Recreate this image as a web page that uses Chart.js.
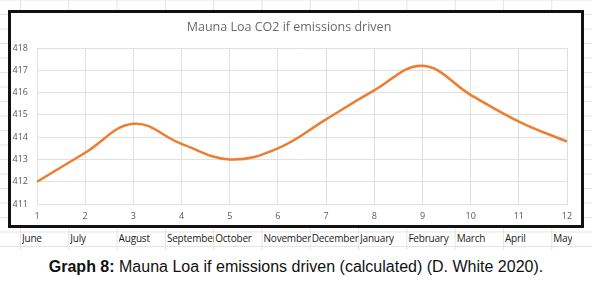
<!DOCTYPE html>
<html>
<head>
<meta charset="utf-8">
<script src="https://cdn.jsdelivr.net/npm/chart.js@4/dist/chart.umd.min.js"></script>
<style>
  html, body { margin: 0; padding: 0; background: #fff; }
  body { width: 592px; height: 287px; position: relative; overflow: hidden; font-family: "Open Sans", sans-serif; }
  #sheet {
    position: absolute; left: 0; top: 0; width: 592px; height: 250px;
    background-image:
      linear-gradient(to right, #e4e4e4 1px, transparent 1px),
      linear-gradient(to bottom, #e4e4e4 1px, transparent 1px);
    background-size: 48.3px 14.5px;
    background-position: 20px 14px;
  }
  #box {
    position: absolute; left: 8px; top: 10px; width: 570px; height: 212px;
    border: 3px solid #111; background: #fff;
  }
  #months { position: absolute; left: 0; top: 230px; width: 592px; height: 16px; }
  #months span {
    position: absolute; top: 1px; font-family: "Open Sans", sans-serif; font-size: 10px;
    color: #222; white-space: nowrap; letter-spacing: -0.2px;
  }
  #caption {
    position: absolute; left: 0; width: 592px; top: 258px; text-align: center;
    font-family: "Liberation Sans", Arial, sans-serif; font-size: 16px; color: #111;
  }
</style>
</head>
<body>
<div id="sheet"></div>
<div id="box"><canvas id="chart" width="570" height="212"></canvas></div>
<div id="months"></div>
<div id="caption"><b>Graph 8:</b> Mauna Loa if emissions driven (calculated) (D. White 2020).</div>
<script>
// valores
const categories = ['1', '2', '3', '4', '5', '6', '7', '8', '9', '10', '11', '12'];
const co2Values = [412.0, 413.3, 414.6, 413.7, 413.0, 413.5, 414.8, 416.1, 417.2, 415.9, 414.7, 413.8];
const monthNames = ['June', 'July', 'August', 'September', 'October', 'November', 'December',
  'January', 'February', 'March', 'April', 'May'];
const yTicks = [411, 412, 413, 414, 415, 416, 417, 418];

// fila de meses debajo del grafico (celdas de la hoja)
const monthsRow = document.getElementById('months');
monthNames.forEach(function (m, i) {
  const s = document.createElement('span');
  s.textContent = m;
  s.style.left = (22 + 48.3 * i) + 'px';
  s.style.maxWidth = '47px';
  s.style.overflow = 'hidden';
  monthsRow.appendChild(s);
});

const gridColor = '#e0e0e0';
const tickColor = '#595959';

new Chart(document.getElementById('chart'), {
  type: 'line',
  data: {
    labels: categories,
    datasets: [{
      data: co2Values,
      borderColor: '#ED7D31',
      borderWidth: 2.5,
      tension: 0.4,
      pointRadius: 0,
      fill: false
    }]
  },
  options: {
    responsive: false,
    animation: false,
    layout: { padding: { left: 0, right: 14, top: 0, bottom: 0 } },
    plugins: {
      legend: { display: false },
      tooltip: { enabled: false },
      title: {
        display: true,
        text: 'Mauna Loa CO2 if emissions driven',
        color: '#6a6a6a',
        font: { family: 'Open Sans', size: 12.5, weight: 'normal' },
        padding: { top: 7, bottom: 13 }
      }
    },
    scales: {
      x: {
        offset: false,
        grid: { color: gridColor, drawTicks: false },
        border: { color: gridColor },
        ticks: { color: tickColor, font: { family: 'Open Sans', size: 9 }, padding: 7, maxRotation: 0 },
        afterFit: function (s) { s.height = 21; }
      },
      y: {
        min: 411,
        max: 418,
        afterBuildTicks: function (s) { s.ticks = yTicks.map(v => ({ value: v })); },
        grid: { color: gridColor, drawTicks: false },
        border: { color: gridColor },
        ticks: { color: tickColor, font: { family: 'Open Sans', size: 9 }, padding: 9 },
        afterFit: function (s) { s.width = 26; }
      }
    }
  }
});
</script>
</body>
</html>
